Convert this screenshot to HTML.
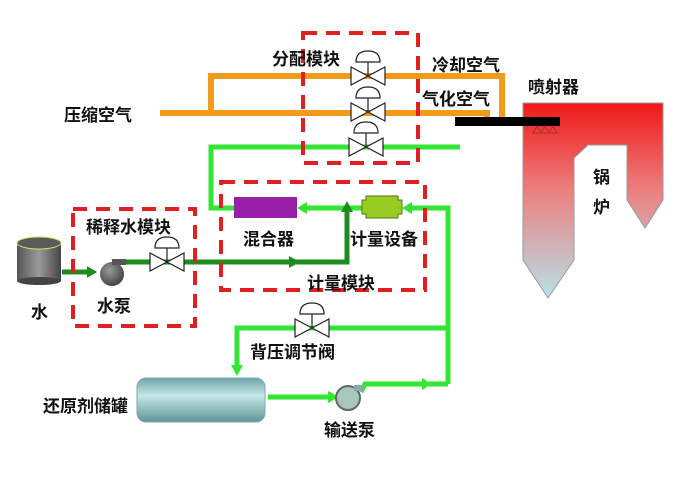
<!DOCTYPE html>
<html><head><meta charset="utf-8"><style>
html,body{margin:0;padding:0;background:#fff;}
svg{display:block}
text{font-family:"Liberation Sans","Noto Sans CJK SC",sans-serif;font-size:17px;font-weight:bold;fill:#111}
</style></head><body>
<svg width="691" height="481" viewBox="0 0 691 481" xmlns="http://www.w3.org/2000/svg">
<defs>
<linearGradient id="boil" x1="0" y1="0" x2="0" y2="1">
<stop offset="0" stop-color="#f01818"/><stop offset="0.45" stop-color="#ec8080"/><stop offset="1" stop-color="#b8e0e8"/></linearGradient>
<linearGradient id="tank" x1="0" y1="0" x2="0" y2="1">
<stop offset="0" stop-color="#6fa5a8"/><stop offset="0.4" stop-color="#c5e8e8"/><stop offset="1" stop-color="#5f9496"/></linearGradient>
<radialGradient id="gray" cx="0.4" cy="0.35" r="0.7"><stop offset="0" stop-color="#9a9a9a"/><stop offset="1" stop-color="#3e3e3e"/></radialGradient>
<linearGradient id="wt" x1="0" y1="0" x2="1" y2="0"><stop offset="0" stop-color="#555"/><stop offset="0.5" stop-color="#9a9a9a"/><stop offset="1" stop-color="#444"/></linearGradient>
<g id="valve" fill="#fff" stroke="#222" stroke-width="1.2">
<path d="M-17,-9 L17,9 L17,-9 L-17,9 Z"/>
<line x1="0" y1="0" x2="0" y2="-14"/>
<path d="M-12,-14 Q-12,-25 0,-25 Q12,-25 12,-14 Z"/>
</g>
</defs>

<g stroke="#f29a1a" stroke-width="6" fill="none">
<polyline points="160,113 487,113 487,120"/>
<polyline points="211,113 211,76 502,76 502,120"/>
</g>

<path d="M523,103 L663,103 L663,200 L645,228 L627,200 L627,145 L588,145 L574,158 L574,260 L548,298 L523,260 Z" fill="url(#boil)" stroke="#999" stroke-width="1"/>
<rect x="455" y="117" width="105" height="9" fill="#000"/>
<path d="M533,133 L537,126 L541,133 L545,126 L549,133 L553,126 L557,133 Z" fill="none" stroke="#a33" stroke-width="1"/>

<g stroke="#33e633" stroke-width="5" fill="none">
<polyline points="460,147 211,147 211,208 234,208"/>
<polyline points="448,384 448,208 408,208"/>
<line x1="362" y1="208" x2="303" y2="208"/>
<polyline points="448,328 237,328 237,368"/>
<polyline points="361,392 365,384 448,384"/>
<line x1="268" y1="397" x2="330" y2="397"/>
</g>
<g fill="#33e633">
<polygon points="402,208 412,202 412,214"/>
<polygon points="297,208 307,202 307,214"/>
<polygon points="237,376 231,365 243,365"/>
<polygon points="339,397 328,391 328,403"/>
<polygon points="432,384 422,378 422,390"/>
</g>
<g stroke="#1e8c1e" stroke-width="5" fill="none">
<polyline points="125,262 347,262 347,208"/>
<line x1="62" y1="272" x2="92" y2="272"/>
</g>
<g fill="#1e8c1e">
<polygon points="347,201 341,212 353,212"/>
<polygon points="300,262 289,256 289,268"/>
<polygon points="97,272 87,266 87,278"/>
</g>

<g stroke="#e02020" stroke-width="4" fill="none" stroke-dasharray="14,9">
<rect x="303" y="33" width="115" height="130"/>
<rect x="221" y="182" width="204" height="108"/>
<rect x="73" y="209" width="122" height="117"/>
</g>

<use href="#valve" x="368" y="76"/>
<use href="#valve" x="368" y="112"/>
<use href="#valve" x="366" y="147"/>
<use href="#valve" x="167" y="262"/>
<use href="#valve" x="312" y="328"/>

<rect x="234" y="197" width="63" height="21" fill="#9a1fa8"/>
<path d="M366,196 L398,196 L398,200 L402,200 L402,214 L398,214 L398,218 L366,218 L366,214 L362,214 L362,200 L366,200 Z" fill="#99cc22" stroke="#557711" stroke-width="1"/>

<rect x="17" y="243" width="44" height="38" fill="url(#wt)"/>
<ellipse cx="39" cy="281" rx="22" ry="4" fill="#444"/>
<ellipse cx="39" cy="243" rx="22" ry="6" fill="#5a5a5a" stroke="#cce066" stroke-width="1"/>
<circle cx="112" cy="274" r="12" fill="url(#gray)"/>
<rect x="112" y="259" width="14" height="6" fill="#555"/>

<rect x="137" y="378" width="128" height="44" rx="9" fill="url(#tank)" stroke="#7aa" stroke-width="1"/>
<circle cx="348" cy="398" r="12" fill="#a8c6c0" stroke="#666" stroke-width="2"/>
<rect x="354" y="385" width="9" height="6" fill="#8aa"/>

<text x="272" y="65">分配模块</text>
<text x="432" y="71">冷却空气</text>
<text x="422" y="105">气化空气</text>
<text x="528" y="93">喷射器</text>
<text x="64" y="121">压缩空气</text>
<text x="593" y="183">锅</text>
<text x="593" y="213">炉</text>
<text x="86" y="233">稀释水模块</text>
<text x="243" y="245">混合器</text>
<text x="350" y="245">计量设备</text>
<text x="307" y="289">计量模块</text>
<text x="31" y="318">水</text>
<text x="97" y="312">水泵</text>
<text x="250" y="358">背压调节阀</text>
<text x="43" y="412">还原剂储罐</text>
<text x="324" y="436">输送泵</text>
</svg>
</body></html>
